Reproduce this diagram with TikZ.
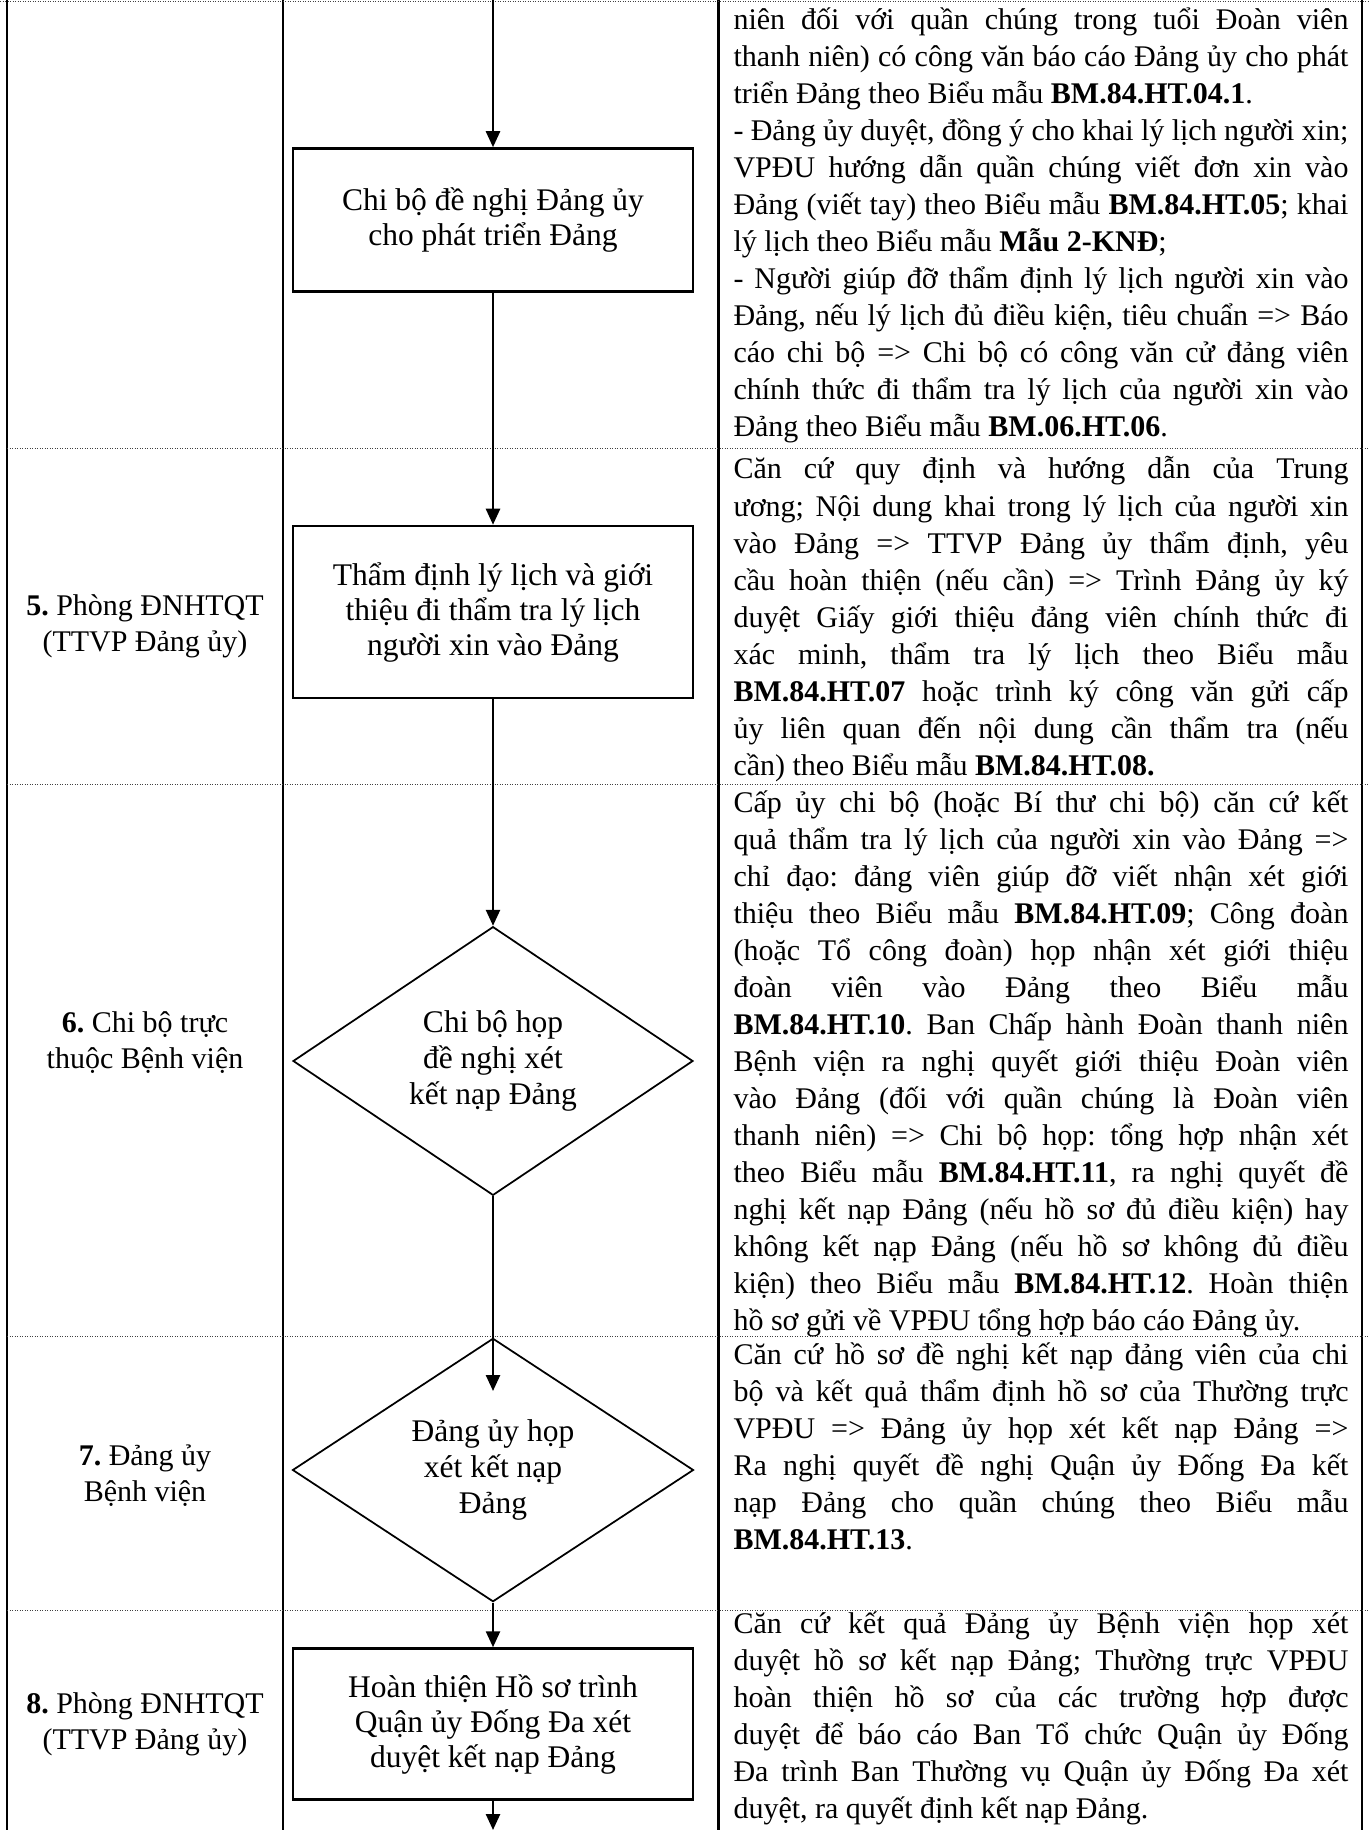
\documentclass[tikz,border=0pt]{standalone}
\usepackage{fontspec}
\setmainfont{Liberation Serif}
\usetikzlibrary{shapes.geometric,arrows.meta}
\frenchspacing

\begin{document}
\begin{tikzpicture}[x=0.4pt,y=-0.4pt,
    stepbox/.style={draw,line width=1pt,minimum width=160pt,align=center,inner sep=0pt,
      font=\fontsize{12.6pt}{14pt}\selectfont},
    decide/.style={draw,diamond,line width=0.7pt,align=center,inner sep=0pt,
      font=\fontsize{12.6pt}{14.4pt}\selectfont},
    who/.style={align=center,inner sep=0pt,font=\fontsize{12pt}{14.4pt}\selectfont},
    desc/.style={anchor=base west,text width=246pt,align=justify,inner sep=0pt,
      font=\fontsize{12pt}{14.8pt}\selectfont,
      execute at begin node={\parindent=0pt\hyphenpenalty=10000\exhyphenpenalty=10000\tolerance=10000}},
    flow/.style={line width=1pt,-{Triangle[width=5.6pt,length=6.4pt]}},
    rowline/.style={line width=0.4pt,dash pattern=on 0.4pt off 0.6pt,black!75}]
  \useasboundingbox (0,0) rectangle (1368,1830);

  % table
  \draw[line width=0.7pt] (7,0) -- (7,1830);
  \draw[line width=0.8pt] (283,0) -- (283,1830);
  \draw[line width=1.2pt] (718,0) -- (718,1830);
  \draw[line width=0.8pt] (1362,0) -- (1362,1830);
  \draw[rowline] (0,2) -- (1368,2);
  \foreach \y in {449,784,1336,1610}
    \draw[rowline] (7,\y) -- (1368,\y);

  % left column
  \node[who] (lbl5) at (145,626) {\textbf{5.} Phòng ĐNHTQT\\(TTVP Đảng ủy)};
  \node[who] (lbl6) at (145,1043) {\textbf{6.} Chi bộ trực\\thuộc Bệnh viện};
  \node[who] (lbl7) at (145,1476) {\textbf{7.} Đảng ủy\\Bệnh viện};
  \node[who] (lbl8) at (145,1724) {\textbf{8.} Phòng ĐNHTQT\\(TTVP Đảng ủy)};

  % flow
  \coordinate (in) at (493,0);
  \node[stepbox,minimum height=57.2pt] (b4) at (493,220) {Chi bộ đề nghị Đảng ủy\\cho phát triển Đảng};
  \node[stepbox,minimum height=68.8pt] (b5) at (493,612) {Thẩm định lý lịch và giới\\thiệu đi thẩm tra lý lịch\\người xin vào Đảng};
  \node[decide,minimum width=160pt,minimum height=95.2pt] (d6) at (493,1061) {Chi bộ họp\\đề nghị xét\\kết nạp Đảng};
  \node[decide,minimum width=160.4pt,minimum height=93.2pt] (d7) at (493,1470) {Đảng ủy họp\\xét kết nạp\\Đảng};
  \coordinate (d7in) at (493,1391);
  \node[stepbox,minimum height=60.4pt] (b8) at (493,1724) {Hoàn thiện Hồ sơ trình\\Quận ủy Đống Đa xét\\duyệt kết nạp Đảng};
  \coordinate (out) at (493,1830);

  \draw[flow] (in) -- (b4);
  \draw[flow] (b4) -- (b5);
  \draw[flow] (b5) -- (d6);
  \draw[flow] (d6) -- (d7in);
  \draw[flow] (d7) -- (b8);
  \draw[flow] (b8) -- (out);

  % right column
  \node[desc] (t4) at (733,30) {niên đối với quần chúng trong tuổi Đoàn viên\linebreak
    thanh niên) có công văn báo cáo Đảng ủy cho phát\linebreak
    triển Đảng theo Biểu mẫu \textbf{BM.84.HT.04.1}.\par
    - Đảng ủy duyệt, đồng ý cho khai lý lịch người xin;\linebreak
    VPĐU hướng dẫn quần chúng viết đơn xin vào\linebreak
    Đảng (viết tay) theo Biểu mẫu \textbf{BM.84.HT.05}; khai\linebreak
    lý lịch theo Biểu mẫu \textbf{Mẫu 2-KNĐ};\par
    - Người giúp đỡ thẩm định lý lịch người xin vào\linebreak
    Đảng, nếu lý lịch đủ điều kiện, tiêu chuẩn => Báo\linebreak
    cáo chi bộ => Chi bộ có công văn cử đảng viên\linebreak
    chính thức đi thẩm tra lý lịch của người xin vào\linebreak
    Đảng theo Biểu mẫu \textbf{BM.06.HT.06}.};
  \node[desc] (t5) at (733,479) {Căn cứ quy định và hướng dẫn của Trung\linebreak
    ương; Nội dung khai trong lý lịch của người xin\linebreak
    vào Đảng => TTVP Đảng ủy thẩm định, yêu\linebreak
    cầu hoàn thiện (nếu cần) => Trình Đảng ủy ký\linebreak
    duyệt Giấy giới thiệu đảng viên chính thức đi\linebreak
    xác minh, thẩm tra lý lịch theo Biểu mẫu\linebreak
    \textbf{BM.84.HT.07} hoặc trình ký công văn gửi cấp\linebreak
    ủy liên quan đến nội dung cần thẩm tra (nếu\linebreak
    cần) theo Biểu mẫu \textbf{BM.84.HT.08.}};
  \node[desc] (t6) at (733,812) {Cấp ủy chi bộ (hoặc Bí thư chi bộ) căn cứ kết\linebreak
    quả thẩm tra lý lịch của người xin vào Đảng =>\linebreak
    chỉ đạo: đảng viên giúp đỡ viết nhận xét giới\linebreak
    thiệu theo Biểu mẫu \textbf{BM.84.HT.09}; Công đoàn\linebreak
    (hoặc Tổ công đoàn) họp nhận xét giới thiệu\linebreak
    đoàn viên vào Đảng theo Biểu mẫu\linebreak
    \textbf{BM.84.HT.10}. Ban Chấp hành Đoàn thanh niên\linebreak
    Bệnh viện ra nghị quyết giới thiệu Đoàn viên\linebreak
    vào Đảng (đối với quần chúng là Đoàn viên\linebreak
    thanh niên) => Chi bộ họp: tổng hợp nhận xét\linebreak
    theo Biểu mẫu \textbf{BM.84.HT.11}, ra nghị quyết đề\linebreak
    nghị kết nạp Đảng (nếu hồ sơ đủ điều kiện) hay\linebreak
    không kết nạp Đảng (nếu hồ sơ không đủ điều\linebreak
    kiện) theo Biểu mẫu \textbf{BM.84.HT.12}. Hoàn thiện\linebreak
    hồ sơ gửi về VPĐU tổng hợp báo cáo Đảng ủy.};
  \node[desc] (t7) at (733,1364) {Căn cứ hồ sơ đề nghị kết nạp đảng viên của chi\linebreak
    bộ và kết quả thẩm định hồ sơ của Thường trực\linebreak
    VPĐU => Đảng ủy họp xét kết nạp Đảng =>\linebreak
    Ra nghị quyết đề nghị Quận ủy Đống Đa kết\linebreak
    nạp Đảng cho quần chúng theo Biểu mẫu\linebreak
    \textbf{BM.84.HT.13}.};
  \node[desc] (t8) at (733,1633) {Căn cứ kết quả Đảng ủy Bệnh viện họp xét\linebreak
    duyệt hồ sơ kết nạp Đảng; Thường trực VPĐU\linebreak
    hoàn thiện hồ sơ của các trường hợp được\linebreak
    duyệt để báo cáo Ban Tổ chức Quận ủy Đống\linebreak
    Đa trình Ban Thường vụ Quận ủy Đống Đa xét\linebreak
    duyệt, ra quyết định kết nạp Đảng.};
\end{tikzpicture}
\end{document}
